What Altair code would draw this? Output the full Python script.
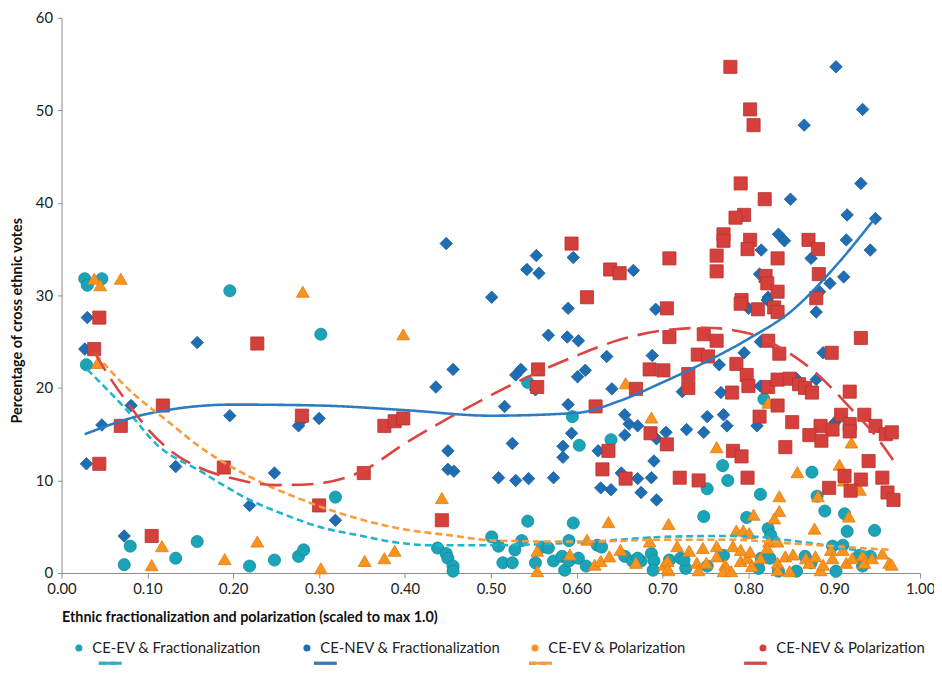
import altair as alt
import pandas as pd

SERIES = ["CE-EV & Fractionalization", "CE-NEV & Fractionalization",
          "CE-EV & Polarization", "CE-NEV & Polarization"]
TRENDS = ["Poly. CE-EV & Fractionalization", "Poly. CE-NEV & Fractionalization",
          "Poly. CE-EV & Polarization", "Poly. CE-NEV & Polarization"]

X_TICKS = [0.0, 0.1, 0.2, 0.3, 0.4, 0.5, 0.6, 0.7, 0.8, 0.9, 1.0]
Y_TICKS = [0, 10, 20, 30, 40, 50, 60]

# (x, y) pairs
ev_frac = [
    (0.027, 31.8), (0.030, 31.1), (0.047, 31.8), (0.196, 30.5), (0.029, 22.5),
    (0.073, 0.9), (0.080, 2.9), (0.133, 1.6), (0.158, 3.4), (0.219, 0.75), (0.248, 1.4),
    (0.276, 1.8), (0.282, 2.5), (0.302, 25.8), (0.319, 8.2),
    (0.438, 2.7), (0.448, 2.1), (0.450, 1.6), (0.456, 0.75), (0.456, 0.2),
    (0.501, 3.9), (0.509, 2.9), (0.514, 1.1), (0.525, 1.1), (0.528, 2.5), (0.536, 3.5),
    (0.543, 5.6), (0.552, 1.1), (0.560, 2.8), (0.567, 2.7), (0.573, 1.3), (0.583, 1.8),
    (0.586, 0.3), (0.591, 3.5), (0.596, 5.4), (0.591, 1.3), (0.602, 1.6), (0.611, 0.75),
    (0.624, 3.0), (0.629, 2.8), (0.656, 1.8), (0.665, 1.3), (0.675, 1.3), (0.687, 2.1),
    (0.690, 1.3), (0.689, 0.3), (0.543, 20.6), (0.595, 16.9), (0.603, 13.8), (0.640, 14.4),
    (0.818, 18.8), (0.770, 11.6), (0.776, 10.0), (0.752, 9.1), (0.748, 6.1), (0.814, 8.5),
    (0.798, 6.0), (0.823, 4.8), (0.826, 4.1), (0.874, 10.9), (0.889, 6.7), (0.880, 8.3),
    (0.912, 6.4), (0.915, 4.5), (0.947, 4.6), (0.708, 1.4), (0.721, 1.6), (0.727, 0.5),
    (0.752, 0.75), (0.771, 1.9), (0.812, 0.5), (0.815, 1.6), (0.825, 1.6), (0.835, 0.2),
    (0.856, 0.2), (0.866, 1.8), (0.873, 1.1), (0.902, 0.2), (0.910, 3.0), (0.929, 1.9),
    (0.933, 0.75), (0.942, 1.8), (0.671, 1.6), (0.725, 1.4), (0.898, 2.9),
]

nev_frac = [
    (0.030, 27.6), (0.027, 24.2), (0.047, 16.0), (0.029, 11.8), (0.081, 18.1), (0.073, 4.0),
    (0.158, 24.9), (0.133, 11.5), (0.196, 17.0), (0.219, 7.3), (0.248, 10.8), (0.276, 15.9),
    (0.279, 16.4), (0.300, 16.7), (0.319, 5.7), (0.436, 20.1), (0.456, 22.0), (0.450, 13.2),
    (0.450, 11.2), (0.457, 11.0), (0.448, 35.6), (0.501, 29.8), (0.553, 34.3), (0.542, 32.8),
    (0.556, 32.4), (0.596, 34.1), (0.590, 28.6), (0.567, 25.7), (0.589, 25.5), (0.602, 25.1),
    (0.635, 23.4), (0.529, 21.4), (0.535, 22.0), (0.552, 19.8), (0.601, 21.2), (0.610, 21.9),
    (0.641, 19.9), (0.516, 18.0), (0.590, 18.2), (0.594, 15.1), (0.525, 14.0), (0.584, 13.7),
    (0.584, 12.5), (0.625, 13.2), (0.509, 10.3), (0.529, 10.0), (0.544, 10.2), (0.573, 10.3),
    (0.628, 9.2), (0.640, 9.0),
    (0.902, 54.7), (0.933, 50.1), (0.865, 48.4), (0.931, 42.1), (0.849, 40.4), (0.915, 38.7),
    (0.948, 38.3), (0.835, 36.6), (0.842, 35.9), (0.914, 36.0), (0.815, 34.9), (0.942, 34.9),
    (0.873, 34.0), (0.666, 32.7), (0.813, 32.3), (0.911, 32.0), (0.895, 31.3), (0.883, 30.4),
    (0.823, 29.8), (0.692, 28.5), (0.800, 28.6), (0.822, 29.5), (0.879, 28.2), (0.688, 23.5),
    (0.795, 23.8), (0.766, 22.5), (0.887, 23.8), (0.814, 25.0), (0.723, 19.6), (0.768, 19.5),
    (0.814, 20.2), (0.879, 20.9), (0.856, 21.0), (0.656, 17.1), (0.661, 16.1), (0.671, 15.9),
    (0.656, 14.9), (0.693, 14.5), (0.704, 15.2), (0.728, 15.5), (0.752, 16.9), (0.771, 17.1),
    (0.748, 15.2), (0.775, 15.9), (0.810, 15.9), (0.901, 16.3), (0.690, 12.1), (0.652, 10.8),
    (0.671, 10.2), (0.687, 10.3), (0.675, 8.7), (0.693, 7.9),
]

ev_pol = [
    (0.038, 31.8), (0.045, 31.1), (0.069, 31.8), (0.281, 30.4), (0.042, 22.7), (0.117, 2.9),
    (0.105, 0.85), (0.190, 1.5), (0.228, 3.4), (0.398, 25.8), (0.302, 0.5), (0.353, 1.3),
    (0.376, 1.6), (0.388, 2.4), (0.443, 8.1), (0.554, 2.4), (0.554, 0.2), (0.592, 2.0),
    (0.612, 3.6), (0.637, 5.5), (0.621, 0.9), (0.628, 1.3), (0.638, 1.8), (0.651, 2.5),
    (0.669, 1.1), (0.685, 3.4), (0.707, 5.3), (0.702, 0.9), (0.707, 0.3), (0.657, 20.5),
    (0.687, 16.8), (0.763, 13.6), (0.823, 18.4), (0.920, 14.1), (0.906, 11.7), (0.857, 10.9),
    (0.911, 10.0), (0.930, 9.0), (0.881, 8.3), (0.836, 8.3), (0.836, 6.7), (0.830, 5.9),
    (0.806, 6.3), (0.917, 6.1), (0.877, 4.8), (0.786, 4.6), (0.794, 4.6), (0.801, 4.3),
    (0.824, 3.4), (0.834, 3.4),
    (0.717, 2.9), (0.731, 2.4), (0.740, 1.1), (0.742, 0.3), (0.747, 2.7), (0.751, 1.1),
    (0.763, 2.9), (0.763, 1.8), (0.773, 0.9), (0.771, 0.2), (0.780, 0.2), (0.782, 2.9),
    (0.791, 2.5), (0.791, 1.3), (0.799, 1.6), (0.802, 2.3), (0.804, 0.75), (0.814, 1.6),
    (0.822, 2.7), (0.834, 1.1), (0.834, 0.3), (0.843, 1.8), (0.848, 0.2), (0.852, 2.0),
    (0.867, 1.6), (0.871, 1.1), (0.878, 1.8), (0.884, 0.3), (0.887, 0.9), (0.896, 2.5),
    (0.898, 1.6), (0.910, 2.5), (0.914, 1.1), (0.921, 1.6), (0.933, 1.9), (0.935, 1.1),
    (0.944, 1.6), (0.956, 2.1), (0.964, 1.1), (0.967, 0.9), (0.706, 1.3), (0.706, 0.5),
]

nev_pol = [
    (0.044, 27.6), (0.038, 24.2), (0.044, 11.8), (0.069, 15.9), (0.118, 18.1), (0.105, 4.0),
    (0.228, 24.8), (0.189, 11.4), (0.280, 17.0), (0.300, 7.3), (0.376, 15.9), (0.388, 16.4),
    (0.398, 16.7), (0.352, 10.8), (0.443, 5.7), (0.594, 35.6), (0.612, 29.8), (0.555, 22.0),
    (0.554, 20.1), (0.622, 18.0), (0.637, 13.2), (0.630, 11.2), (0.708, 34.0), (0.639, 32.8),
    (0.650, 32.4), (0.705, 28.6), (0.708, 25.5), (0.748, 25.8), (0.685, 22.0), (0.701, 21.9),
    (0.741, 23.6), (0.753, 23.4), (0.730, 21.5), (0.730, 20.0), (0.669, 19.9), (0.686, 15.1),
    (0.705, 13.9),
    (0.779, 54.7), (0.802, 50.1), (0.806, 48.4), (0.791, 42.1), (0.819, 40.4), (0.795, 38.7),
    (0.785, 38.4), (0.771, 36.6), (0.771, 35.9), (0.802, 36.0), (0.799, 35.0), (0.870, 36.0),
    (0.881, 35.0), (0.834, 34.0), (0.763, 34.3), (0.763, 32.6), (0.820, 32.1), (0.822, 31.3),
    (0.834, 30.4), (0.882, 32.3), (0.792, 29.5), (0.879, 29.7), (0.791, 29.1), (0.811, 28.5),
    (0.830, 28.7), (0.834, 28.2), (0.931, 25.4), (0.763, 25.1), (0.823, 25.1), (0.836, 23.7),
    (0.897, 23.8), (0.786, 22.6), (0.798, 21.4), (0.800, 20.2), (0.823, 20.1), (0.834, 20.9),
    (0.848, 21.0), (0.859, 20.4), (0.866, 20.0), (0.874, 19.5), (0.781, 19.5), (0.834, 18.1),
    (0.918, 19.6), (0.813, 16.9), (0.851, 16.3), (0.884, 15.9), (0.908, 17.1), (0.935, 17.1),
    (0.898, 15.5), (0.918, 16.1), (0.918, 15.3), (0.948, 15.9), (0.960, 15.0), (0.967, 15.2),
    (0.871, 14.9), (0.885, 14.3), (0.843, 13.6), (0.782, 13.2), (0.792, 12.6), (0.940, 12.1),
    (0.657, 10.2), (0.720, 10.3), (0.742, 10.0), (0.799, 10.3), (0.956, 10.3), (0.912, 10.5),
    (0.931, 10.1), (0.894, 9.2), (0.919, 8.9), (0.962, 8.7), (0.969, 7.9),
]

# trend curves (polynomial trendlines)
trend_ev_frac = [
    (0.030, 22.0), (0.075, 17.7), (0.113, 13.7), (0.160, 11.1), (0.217, 8.0), (0.263, 6.2),
    (0.300, 5.0), (0.350, 4.0), (0.390, 3.3), (0.430, 3.0), (0.500, 3.0), (0.580, 3.2),
    (0.620, 3.4), (0.700, 3.9), (0.770, 4.0), (0.810, 3.9), (0.850, 3.5), (0.890, 3.0),
    (0.948, 2.1),
]
trend_nev_frac = [
    (0.027, 15.0), (0.100, 17.2), (0.200, 18.2), (0.300, 18.1), (0.400, 17.6), (0.500, 17.0),
    (0.600, 17.3), (0.650, 18.6), (0.700, 20.6), (0.750, 22.8), (0.800, 25.3), (0.850, 28.3),
    (0.900, 33.0), (0.947, 38.3),
]
trend_ev_pol = [
    (0.040, 23.6), (0.082, 19.5), (0.121, 16.6), (0.160, 13.7), (0.217, 10.5), (0.275, 8.1),
    (0.313, 6.8), (0.352, 5.7), (0.400, 4.7), (0.450, 4.1), (0.505, 3.5), (0.580, 3.4),
    (0.620, 3.4), (0.700, 3.6), (0.775, 3.6), (0.850, 3.2), (0.930, 2.7), (0.967, 2.5),
]
trend_nev_pol = [
    (0.038, 23.9), (0.060, 20.6), (0.080, 18.0), (0.100, 15.6), (0.130, 13.0), (0.160, 11.4),
    (0.200, 10.2), (0.250, 9.5), (0.290, 9.6), (0.350, 11.0), (0.400, 14.0), (0.450, 16.7),
    (0.500, 19.2), (0.550, 21.5), (0.600, 23.5), (0.650, 25.2), (0.700, 26.2), (0.750, 26.5),
    (0.800, 25.9), (0.840, 24.2), (0.880, 21.5), (0.920, 17.7), (0.950, 14.6), (0.970, 12.0),
]

PT_COLORS = ["#19a4b8", "#1f6eb3", "#f7931e", "#d6403c"]
PT_STROKES = ["#148a9b", "#195d98", "#e07d12", "#b3322e"]
PT_SHAPES = ["circle", "diamond", "triangle-up", "square"]
PT_SIZES = [150, 175, 160, 135]
LN_COLORS = ["#22b4cb", "#2b7cc3", "#fb9b3a", "#db4642"]
LN_DASHES = [[7, 4], [1, 0], [7, 4], [22, 10]]

rows = []
for name, pts in zip(SERIES, [ev_frac, nev_frac, ev_pol, nev_pol]):
    for x, y in pts:
        rows.append({"series": name, "x": x, "y": y})
pts_df = pd.DataFrame(rows)

trows = []
for name, pts in zip(TRENDS, [trend_ev_frac, trend_nev_frac, trend_ev_pol, trend_nev_pol]):
    for x, y in pts:
        trows.append({"trend": name, "x": x, "y": y})
trend_df = pd.DataFrame(trows)

FONT = "Lato"
AX = "#8c8c8c"

x_enc = alt.X("x:Q", scale=alt.Scale(domain=[0, 1], nice=False),
              axis=alt.Axis(values=X_TICKS, format=".2f", grid=False,
                            domainColor=AX, tickColor=AX, tickSize=5, labelPadding=4,
                            labelFont=FONT, labelFontSize=15, labelColor="#222222",
                            labelFlush=False, labelOverlap=False,
                            title="Ethnic fractionalization and polarization (scaled to max 1.0)",
                            titleFont=FONT, titleFontSize=14.5, titleFontWeight="bold",
                            titleColor="#111111", titleAnchor="start", titleAlign="left",
                            titleX=0, titleY=45, titleBaseline="middle"))
y_enc = alt.Y("y:Q", scale=alt.Scale(domain=[0, 60], nice=False),
              axis=alt.Axis(values=Y_TICKS, format="d", grid=False,
                            domainColor=AX, tickColor=AX, tickSize=4, labelPadding=5,
                            labelFont=FONT, labelFontSize=15, labelColor="#222222",
                            title="Percentage of cross ethnic votes",
                            titleFont=FONT, titleFontSize=14.5, titleFontWeight="bold",
                            titleColor="#111111", titleX=-44, titleY=305,
                            titleAngle=270, titleAlign="center", titleBaseline="middle"))

pt_legend = alt.Legend(orient="none", legendX=10, legendY=628, direction="horizontal",
                       columns=4, gridAlign="all", columnPadding=27, title=None,
                       symbolSize=50, symbolStrokeWidth=0, labelFont=FONT,
                       labelFontSize=15, labelColor="#222222", labelOffset=6,
                       labelLimit=400)

points = alt.Chart(pts_df).mark_point(filled=True, opacity=1, strokeWidth=0.8).encode(
    x=x_enc, y=y_enc,
    color=alt.Color("series:N", scale=alt.Scale(domain=SERIES, range=PT_COLORS), legend=pt_legend),
    shape=alt.Shape("series:N", scale=alt.Scale(domain=SERIES, range=PT_SHAPES), legend=pt_legend),
    size=alt.Size("series:N", scale=alt.Scale(domain=SERIES, range=PT_SIZES), legend=None),
    stroke=alt.Stroke("series:N", scale=alt.Scale(domain=SERIES, range=PT_STROKES), legend=None),
)

ln_legend = alt.Legend(orient="none", legendX=36, legendY=638, direction="horizontal",
                       columns=4, columnPadding=181, title=None, symbolSize=520,
                       symbolStrokeWidth=3, labelExpr="''", labelOffset=4)

lines = alt.Chart(trend_df).mark_line(strokeWidth=2.6, interpolate="monotone").encode(
    x=alt.X("x:Q"), y=alt.Y("y:Q"),
    color=alt.Color("trend:N", scale=alt.Scale(domain=TRENDS, range=LN_COLORS), legend=ln_legend),
    strokeDash=alt.StrokeDash("trend:N", scale=alt.Scale(domain=TRENDS, range=LN_DASHES), legend=ln_legend),
)

chart = alt.layer(points, lines).resolve_scale(color="independent").properties(
    width=866, height=560,
    padding={"left": 54, "top": 7, "right": 14, "bottom": 100},
    autosize=alt.AutoSizeParams(type="none"),
).configure_view(stroke=None)

chart.save("out.html", embed_options={"renderer": "svg", "actions": False})
